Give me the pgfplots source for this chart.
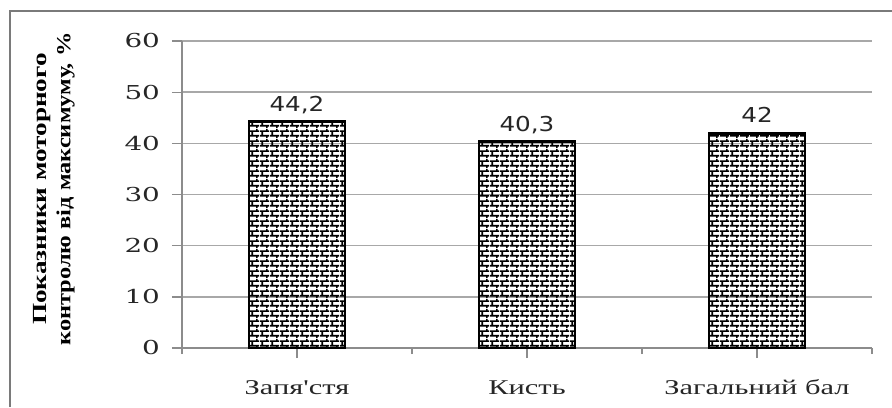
\documentclass[border=0pt]{standalone}
\usepackage{fontspec}
\setmainfont{Liberation Serif}
\newfontfamily\tickfont[FakeStretch=1.45]{DejaVu Serif}
\newfontfamily\valfont[FakeStretch=1.2]{DejaVu Sans}
\newfontfamily\xfont[FakeStretch=1.45]{Liberation Serif}
\newfontfamily\yfont[FakeStretch=1.22]{Liberation Serif}
\newfontfamily\yfontwide[FakeStretch=1.36]{Liberation Serif}
\usepackage{pgfplots}
\pgfplotsset{compat=1.18}
\usetikzlibrary{patterns}

% brick fill: 10 x 5 px bricks, rows offset by half a brick
\pgfdeclarepatternformonly{wallbricks}{\pgfpointorigin}{\pgfpoint{7.5pt}{7.5pt}}{\pgfpoint{7.5pt}{7.5pt}}{%
  \pgfsetlinewidth{1.3pt}%
  \pgfpathmoveto{\pgfpoint{0pt}{1.875pt}}\pgfpathlineto{\pgfpoint{7.5pt}{1.875pt}}%
  \pgfpathmoveto{\pgfpoint{0pt}{5.625pt}}\pgfpathlineto{\pgfpoint{7.5pt}{5.625pt}}%
  \pgfpathmoveto{\pgfpoint{1.875pt}{1.875pt}}\pgfpathlineto{\pgfpoint{1.875pt}{5.625pt}}%
  \pgfpathmoveto{\pgfpoint{5.625pt}{5.625pt}}\pgfpathlineto{\pgfpoint{5.625pt}{7.5pt}}%
  \pgfpathmoveto{\pgfpoint{5.625pt}{0pt}}\pgfpathlineto{\pgfpoint{5.625pt}{1.875pt}}%
  \pgfusepath{stroke}%
}

\definecolor{axisgray}{HTML}{8C8C8C}
\definecolor{gridgray}{HTML}{A8A8A8}
\definecolor{framegray}{HTML}{7A7A7A}
\definecolor{textdark}{HTML}{262626}

\begin{document}
\begin{tikzpicture}
\path[use as bounding box] (0,0) rectangle (669pt,305.25pt);
% outer frame (left and top edges)
\draw[framegray, line width=1.5pt] (7.5pt,0) -- (7.5pt,297pt) -- (669pt,297pt);

\begin{axis}[
  at={(136.5pt,44.25pt)}, anchor=south west,
  scale only axis,
  width=517.5pt, height=230.25pt,
  ybar, bar width=72pt,
  xmin=-0.5, xmax=2.5,
  ymin=0, ymax=60,
  ytick={0,10,...,60},
  xtick={0,1,2},
  xticklabels={Запя'стя, Кисть, Загальний бал},
  extra x ticks={-0.5,0.5,1.5,2.5},
  extra x tick labels={},
  extra x tick style={major tick length=4.5pt, tick align=outside, grid=none},
  axis x line*=bottom,
  axis y line*=left,
  axis line style={axisgray, line width=1pt},
  x axis line style={-},
  y axis line style={-},
  ymajorgrids,
  grid style={gridgray, line width=1.1pt},
  ytick style={axisgray, line width=1pt},
  xtick style={axisgray, line width=1pt},
  ytick align=outside,
  major tick length=7.5pt,
  x tick label style={major tick length=0pt},
  /pgf/number format/assume math mode=true,
  yticklabel style={font=\fontsize{14.4pt}{16pt}\tickfont, text=textdark, anchor=east, xshift=-5.5pt},
  xticklabel style={font=\fontsize{15.75pt}{18pt}\xfont, text=textdark, anchor=base, yshift=-27.5pt},
  nodes near coords,
  point meta=explicit symbolic,
  every node near coord/.append style={font=\fontsize{15.4pt}{17pt}\valfont, text=textdark,
    fill=white, anchor=base, inner xsep=6pt, inner ysep=1pt, yshift=8pt},
]
\addplot[draw=black, line width=2.1pt, pattern=wallbricks, pattern color=black]
  coordinates {(0,44.2) [44,2] (1,40.3) [40,3] (2,42) [42]};
\end{axis}

% y-axis title
\node[rotate=90, align=center, font=\fontsize{15pt}{18pt}\yfont\bfseries, text=black]
  at (40.5pt,163.5pt) {{\yfontwide\bfseries Показники моторного}\\контролю від максимуму, \%};
\end{tikzpicture}
\end{document}
